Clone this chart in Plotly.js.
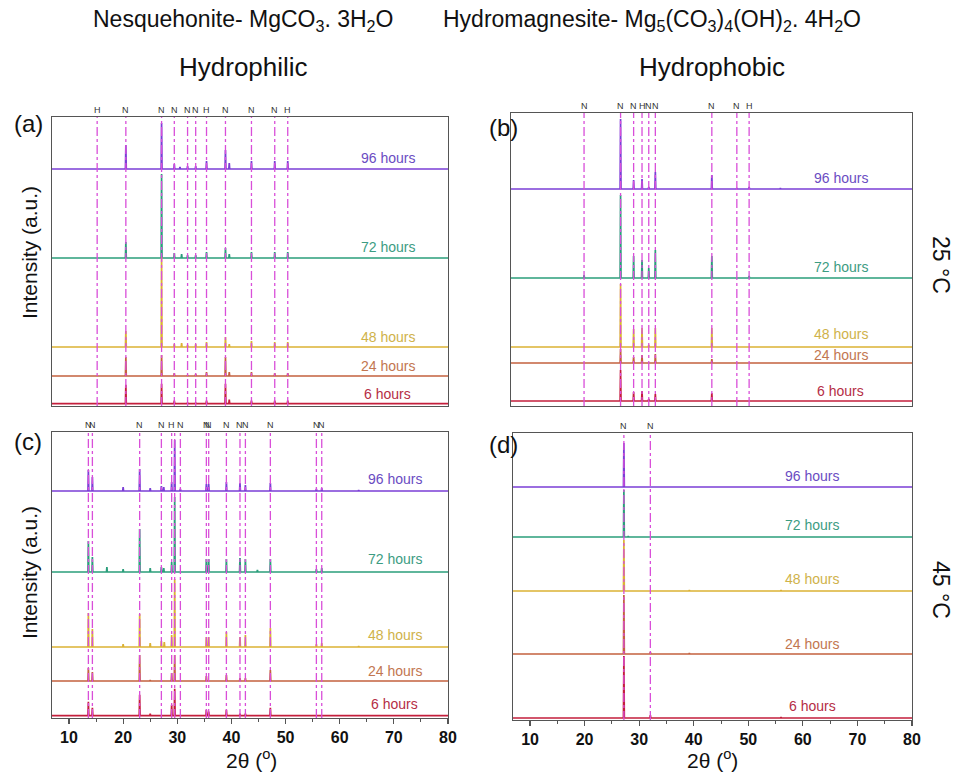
<!DOCTYPE html>
<html>
<head>
<meta charset="utf-8">
<script src="https://cdn.plot.ly/plotly-3.0.1.min.js"></script>
<style>
  html, body { margin: 0; padding: 0; background: #ffffff; }
  #chart { width: 959px; height: 774px; }
</style>
</head>
<body>
<div id="chart"></div>
<script>
// ---- series labels (bottom to top) ----
const hours = ['6 hours', '24 hours', '48 hours', '72 hours', '96 hours'];

// ---- x tick labels ----
const tickVals = [10, 20, 30, 40, 50, 60, 70, 80];
const tickText = ['10', '20', '30', '40', '50', '60', '70', '80'];

// ---- (a) hydrophilic, 25 °C ----
const aRefLines = [15.2, 20.5, 27.1, 29.45, 31.9, 33.4, 35.4, 38.9, 43.7, 48.0, 50.4];
const aRefPhase = ['H', 'N', 'N', 'N', 'N', 'N', 'H', 'N', 'N', 'N', 'H'];
const aPeakPos = [
  [20.5, 27.1, 29.45, 31.9, 33.4, 35.4, 38.9, 39.6, 43.7, 48.0, 50.4],
  [20.5, 27.1, 29.45, 31.9, 33.4, 35.4, 38.9, 39.6, 43.7, 48.0, 50.4],
  [20.5, 27.1, 29.45, 30.8, 31.9, 33.4, 35.4, 38.9, 39.6, 43.7, 48.0, 50.4],
  [20.5, 27.1, 29.45, 30.8, 31.9, 33.4, 35.4, 38.9, 39.6, 43.7, 48.0, 50.4],
  [20.5, 27.1, 29.45, 30.5, 31.9, 33.4, 35.4, 38.9, 39.6, 43.7, 48.0, 50.4]
];
const aPeakHeight = [
  [19, 20, 3, 1, 1, 3, 20, 4, 3, 3, 3],
  [19, 21, 3, 1, 2, 4, 19, 4, 4, 3, 3],
  [16, 90, 3, 4, 2, 3, 5, 10, 3, 6, 5, 5],
  [16, 84, 5, 4, 3, 3, 6, 10, 4, 6, 6, 6],
  [24, 46, 5, 2, 3, 3, 8, 19, 6, 8, 8, 8]
];
const aOffsets = [2.3, 30, 59, 148, 237];

// ---- (b) hydrophobic, 25 °C ----
const bRefLines = [20.2, 26.86, 29.24, 30.77, 32.0, 33.2, 43.5, 48.06, 50.3];
const bRefPhase = ['N', 'N', 'N', 'H', 'N', 'N', 'N', 'N', 'H'];
const bPeakPos = [
  [26.86, 29.24, 30.77, 32.0, 33.2, 43.5],
  [26.86, 29.24, 30.77, 33.2, 43.5],
  [26.86, 29.24, 30.77, 32.0, 33.2, 43.5],
  [20.2, 26.86, 29.24, 30.77, 32.0, 33.2, 43.5, 50.3],
  [26.86, 29.24, 30.77, 32.0, 33.2, 43.5, 48.06, 50.3, 56.0]
];
const bPeakHeight = [
  [31, 9, 10, 2, 7, 8],
  [14, 6, 8, 9, 4],
  [63, 18, 19, 2, 19, 19],
  [3, 83, 22, 18, 10, 28, 22, 2],
  [70, 9, 10, 2, 17, 14, 1, 2, 1]
];
const bOffsets = [5, 43, 59, 128, 217];

// ---- (c) hydrophilic, 45 °C ----
const cRefLines = [13.58, 14.32, 23.05, 27.06, 28.96, 29.52, 30.57, 35.37, 35.8, 39.07, 41.58, 42.58, 47.19, 55.69, 56.68];
const cRefPhase = ['N', 'N', 'N', 'N', 'H', '', 'N', 'N', 'N', 'N', 'N', 'N', 'N', 'N', 'N'];
const cPeakPos = [
  [13.58, 14.32, 23.05, 25.0, 28.96, 29.52, 35.37, 35.8, 39.07, 41.58, 42.58, 47.19],
  [13.58, 14.32, 23.05, 25.0, 28.96, 29.52, 35.37, 39.07, 41.58, 42.58, 47.19],
  [13.58, 14.32, 20.0, 23.05, 25.0, 27.06, 27.6, 28.96, 29.52, 35.37, 35.8, 39.07, 41.58, 42.58, 47.19, 55.69, 56.68, 63.5],
  [13.58, 14.32, 17.0, 20.0, 23.05, 25.0, 27.06, 27.5, 28.96, 29.52, 35.37, 35.8, 39.07, 41.58, 42.58, 44.8, 47.19, 55.69, 56.68],
  [13.58, 14.32, 20.0, 23.05, 25.0, 27.06, 27.5, 28.96, 29.52, 30.57, 35.37, 35.8, 39.07, 41.58, 42.58, 47.19, 55.69, 56.68, 63.5]
];
const cPeakHeight = [
  [14, 8, 21, 2, 11, 27, 6, 4, 6, 2, 2, 8],
  [13, 9, 26, 1, 8, 26, 5, 6, 3, 3, 11],
  [34, 18, 3, 33, 4, 6, 5, 12, 68, 10, 10, 15, 10, 12, 19, 3, 4, 1],
  [31, 15, 5, 3, 43, 4, 5, 4, 10, 75, 13, 13, 13, 14, 13, 2, 13, 3, 4],
  [21, 14, 4, 22, 3, 5, 4, 9, 51, 2, 7, 7, 9, 8, 6, 8, 2, 3, 1]
];
const cOffsets = [2.3, 37, 71, 146, 227];

// ---- (d) hydrophobic, 45 °C ----
const dRefLines = [27.2, 32.05];
const dRefPhase = ['N', 'N'];
const dPeakPos = [
  [27.2, 32.05, 56.0],
  [27.2, 32.05, 39.2],
  [27.2, 39.2, 56.0],
  [27.2, 28.0],
  [27.2]
];
const dPeakHeight = [
  [62, 3, 1],
  [59, 2, 1],
  [51, 1, 1],
  [47, 1],
  [44]
];
const dOffsets = [2, 66, 129, 183, 233];

// ---- styling ----
const lineColors = ['#c41f3c', '#c4623f', '#dbb235', '#2b9e7b', '#7b3fd6'];
const textColors = ['#b52d45', '#c27650', '#cfb24a', '#3c9c82', '#6a4cc2'];
const refColor = '#d94fd9';
const frameColor = '#555555';
const FONT = 'Liberation Sans, Arial, sans-serif';
const X_MAX = 80;
const HALF_WIDTH = 0.08;

// panel geometry (paper fractions) and per-panel settings
const W = 959, H = 774;
const px = v => v / W;
const py = v => 1 - v / H;

const panels = [
  { id: '', pos: aPeakPos, hgt: aPeakHeight, off: aOffsets, lines: aRefLines, phase: aRefPhase,
    xd: [px(52), px(448)], yd: [py(406), py(117)], xr: [6.86, X_MAX], yr: [0, 289], labels: false,
    labelX: 68.9, labelY: [12, 40, 69, 159, 248] },
  { id: '2', pos: bPeakPos, hgt: bPeakHeight, off: bOffsets, lines: bRefLines, phase: bRefPhase,
    xd: [px(511), px(912)], yd: [py(406), py(113)], xr: [6.88, X_MAX], yr: [0, 293], labels: false,
    labelX: 67.0, labelY: [15, 51, 72, 139, 228] },
  { id: '3', pos: cPeakPos, hgt: cPeakHeight, off: cOffsets, lines: cRefLines, phase: cRefPhase,
    xd: [px(52), px(448)], yd: [py(718), py(432)], xr: [6.86, X_MAX], yr: [0, 286], labels: true,
    labelX: 70.2, labelY: [14, 47, 83, 159, 239] },
  { id: '4', pos: dPeakPos, hgt: dPeakHeight, off: dOffsets, lines: dRefLines, phase: dRefPhase,
    xd: [px(513), px(912)], yd: [py(720), py(433)], xr: [6.88, X_MAX], yr: [0, 287], labels: true,
    labelX: 61.7, labelY: [14, 76, 141, 195, 244] }
];

// stick-like diffraction profile on a flat baseline
function pattern(xmin, pos, hgt, offset) {
  const x = [xmin], y = [offset];
  pos.forEach((p, i) => {
    x.push(p - HALF_WIDTH, p, p + HALF_WIDTH);
    y.push(offset, offset + hgt[i], offset);
  });
  x.push(X_MAX); y.push(offset);
  return { x, y };
}

const traces = [];
const shapes = [];
const annotations = [];
const layout = {
  width: W, height: H,
  margin: { l: 0, r: 0, t: 0, b: 0 },
  paper_bgcolor: '#ffffff', plot_bgcolor: '#ffffff',
  showlegend: false,
  font: { family: FONT, color: '#222' }
};

// free text placed by pixel centre
function label(text, cx, cy, size, extra) {
  annotations.push(Object.assign({
    xref: 'paper', yref: 'paper', x: px(cx), y: py(cy),
    xanchor: 'center', yanchor: 'middle', text: text, showarrow: false,
    font: { family: FONT, size: size, color: '#111' }
  }, extra || {}));
}

panels.forEach(p => {
  const xa = 'x' + p.id, ya = 'y' + p.id;
  // draw from the top series down so lower traces sit on top
  for (let s = 4; s >= 0; s--) {
    const d = pattern(p.xr[0], p.pos[s], p.hgt[s], p.off[s]);
    traces.push({
      type: 'scatter', mode: 'lines', x: d.x, y: d.y,
      xaxis: xa, yaxis: ya, name: hours[s],
      line: { color: lineColors[s], width: 1.7 },
      hoverinfo: 'skip'
    });
    annotations.push({
      xref: xa, yref: ya, x: p.labelX, y: p.labelY[s],
      xanchor: 'center', yanchor: 'middle',
      text: hours[s], showarrow: false,
      font: { family: FONT, size: 14, color: textColors[s] }
    });
  }
  p.lines.forEach((v, i) => {
    shapes.push({
      type: 'line', xref: xa, yref: ya + ' domain',
      x0: v, x1: v, y0: 0, y1: 1, layer: 'above',
      line: { color: refColor, width: 1.3, dash: 'dashdot' }
    });
    if (p.phase[i]) {
      annotations.push({
        xref: xa, yref: ya + ' domain', x: v, y: 1,
        xanchor: 'center', yanchor: 'bottom', yshift: 0, text: p.phase[i], showarrow: false,
        font: { family: FONT, size: 9, color: '#333' }
      });
    }
  });
  layout['xaxis' + p.id] = {
    domain: p.xd, range: p.xr, anchor: ya,
    showgrid: false, zeroline: false,
    showline: true, mirror: true, linecolor: frameColor, linewidth: 1.2,
    showticklabels: p.labels,
    ticks: p.labels ? 'outside' : '', ticklen: 5, tickwidth: 1.2, tickcolor: frameColor,
    tickmode: 'array', tickvals: tickVals, ticktext: tickText.map(t => '<b>' + t + '</b>'),
    minor: p.labels ? { ticks: 'outside', ticklen: 3, tickwidth: 1, tickcolor: frameColor, dtick: 5, tick0: 0 } : undefined,
    tickfont: { family: FONT, size: 16, weight: 'bold', color: '#111' }
  };
  layout['yaxis' + p.id] = {
    domain: p.yd, range: p.yr, anchor: xa,
    showgrid: false, zeroline: false, showticklabels: false, ticks: '',
    showline: true, mirror: true, linecolor: frameColor, linewidth: 1.2
  };
});

// panel letters
label('(a)', 28, 124, 24);
label('(b)', 503, 127, 24);
label('(c)', 28, 441, 24);
label('(d)', 503, 444, 24);

// y titles
label('Intensity (a.u.)', 29, 253, 21, { textangle: -90 });
label('Intensity (a.u.)', 29, 573, 21, { textangle: -90 });

// x titles
label('2θ (<sup>o</sup>)', 251, 759, 21);
label('2θ (<sup>o</sup>)', 712, 759, 21);

// temperature labels
label('25 °C', 941, 265, 23, { textangle: 90 });
label('45 °C', 941, 590, 23, { textangle: 90 });

// column headers
label('Nesquehonite- MgCO<sub>3</sub>. 3H<sub>2</sub>O', 243, 20, 23);
label('Hydromagnesite- Mg<sub>5</sub>(CO<sub>3</sub>)<sub>4</sub>(OH)<sub>2</sub>. 4H<sub>2</sub>O', 652, 20, 23);
label('Hydrophilic', 243, 67, 26);
label('Hydrophobic', 712, 67, 26);

layout.shapes = shapes;
layout.annotations = annotations;

Plotly.newPlot('chart', traces, layout, { displayModeBar: false, staticPlot: true });
</script>
</body>
</html>
